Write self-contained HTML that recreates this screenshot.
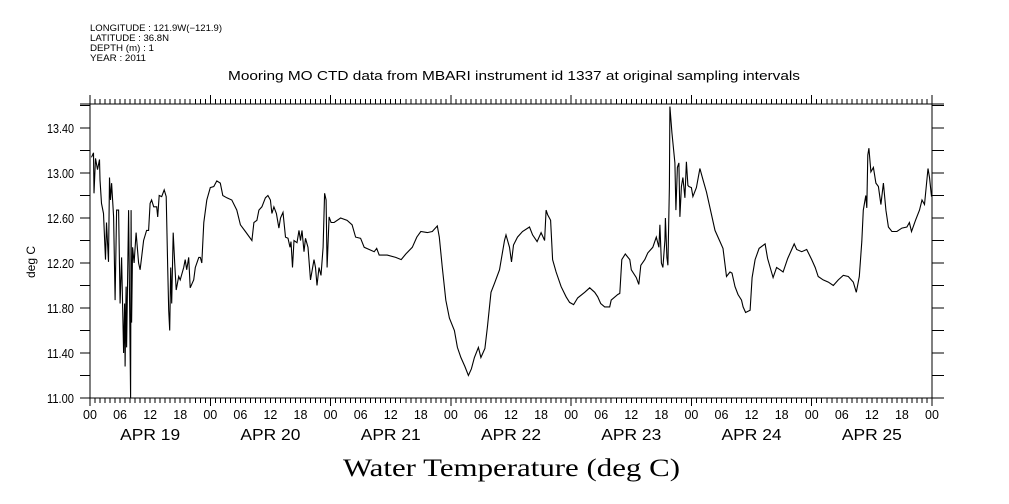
<!DOCTYPE html>
<html><head><meta charset="utf-8"><style>
html,body{margin:0;padding:0;background:#fff;}
svg{display:block;font-family:"Liberation Sans",sans-serif;}
</style></head><body>
<svg id="chart" width="1009" height="504" viewBox="0 0 1009 504">
<g font-size="9" fill="#000">
<text x="90" y="31" textLength="132" lengthAdjust="spacingAndGlyphs">LONGITUDE : 121.9W(−121.9)</text>
<text x="90" y="41" textLength="79" lengthAdjust="spacingAndGlyphs">LATITUDE : 36.8N</text>
<text x="90" y="51" textLength="64" lengthAdjust="spacingAndGlyphs">DEPTH (m) : 1</text>
<text x="90" y="61" textLength="56" lengthAdjust="spacingAndGlyphs">YEAR : 2011</text>
</g>
<text x="228" y="80" textLength="572" lengthAdjust="spacingAndGlyphs" font-size="13">Mooring MO CTD data from MBARI instrument id 1337 at original sampling intervals</text>
<text transform="translate(35,262) rotate(-90)" text-anchor="middle" font-size="12">deg C</text>
<text x="343" y="476" textLength="337" lengthAdjust="spacingAndGlyphs" font-size="25" font-family="Liberation Serif, serif">Water Temperature (deg C)</text>
<g id="axes"></g>
<g id="series"></g>
</svg>
<script>
const hours = [0.3,0.7,0.8,1.1,1.5,1.9,2.0,2.3,2.7,2.9,3.1,3.3,3.7,3.9,4.1,4.3,4.7,5.0,5.3,5.7,6.0,6.3,6.7,6.9,7.0,7.2,7.3,7.7,7.9,8.1,8.2,8.3,8.5,8.8,9.2,9.7,10.0,10.3,10.7,11.3,11.7,12.0,12.3,12.7,13.3,13.5,13.8,14.3,14.8,15.2,15.5,15.7,15.9,16.1,16.3,16.6,16.9,17.2,17.7,18.0,18.7,19.0,19.3,19.7,20.0,20.7,21.0,21.7,22.0,22.3,
22.7,23.3,24,24.7,25.3,26,26.5,27.3,28.3,29.3,30,31,32.3,32.7,33.3,33.7,34.3,35,35.5,36,36.3,36.7,37.2,37.7,38,38.5,39,39.5,39.9,40.1,40.4,40.7,41.3,41.7,42,42.3,42.7,43,43.5,44,44.7,45,45.3,45.7,46.1,46.5,46.8,47.1,47.3,47.7,48.1,48.7,50,51.3,52.3,53,54,54.7,55.7,56.7,57.2,57.7,59.3,61,62.1,63,64.3,65.2,66,67.3,68.3,69.3,69.7,70.3,
71,71.7,72.7,73.3,74,74.8,75.5,76.1,76.7,77.5,78,78.8,79.3,80,80.7,81.7,82.7,83,83.7,84.1,84.5,85.3,86.3,87.7,88.3,89.2,90,90.7,91,91.3,91.9,92.3,93,94,95,95.7,96.5,97.3,98.7,99.7,100.7,101.3,101.9,102.7,103.7,104,105.3,105.7,106.1,106.8,107.7,108,109,109.5,109.9,110.7,111.3,112.3,113,113.5,113.7,114,114.3,114.7,114.8,115.1,115.3,115.6,115.7,116.1,116.7,116.9,117.2,117.5,117.7,118,
118.3,118.7,119,119.3,119.5,120,120.3,121,121.7,122.3,123,123.7,124.7,125.7,126.3,127,127.7,128.1,128.7,129.3,130,130.3,130.8,131.7,132.1,132.7,133.5,134.7,135.2,136.3,137,137.7,138.3,139.2,140,140.5,141,142,143,144,144.7,145.3,146.3,147.3,148.3,149.3,150.3,151.3,152.3,152.9,153.5,154,154.3,154.8,155,155.2,155.4,155.8,156.3,156.8,157.3,157.8,158.3,158.8,159.3,160,161,162,163,163.5,163.9,164.7,165.5,166,166.5,167.2,167.5,167.9];
const temps = [13.14,13.18,12.82,13.13,13.03,13.12,12.94,12.73,12.64,12.43,12.23,12.56,12.21,12.96,12.76,12.91,12.61,11.87,12.67,12.67,11.84,12.25,11.40,11.84,11.28,11.99,11.45,12.67,11.84,11.00,12.67,11.67,12.34,12.20,12.47,12.20,12.14,12.25,12.40,12.49,12.49,12.73,12.76,12.70,12.70,12.61,12.80,12.79,12.85,12.79,12.16,11.78,11.60,12.16,11.84,12.47,12.20,11.96,12.08,12.05,12.16,12.23,12.14,12.25,11.98,12.05,12.16,12.25,12.25,12.20,
12.56,12.76,12.87,12.88,12.93,12.91,12.80,12.78,12.76,12.67,12.54,12.48,12.40,12.56,12.58,12.67,12.70,12.78,12.80,12.76,12.64,12.70,12.64,12.51,12.60,12.65,12.43,12.42,12.34,12.39,12.16,12.40,12.38,12.49,12.40,12.49,12.30,12.42,12.34,12.05,12.23,12.16,12.00,12.16,12.09,12.34,12.82,12.76,12.16,12.61,12.56,12.56,12.60,12.58,12.54,12.43,12.42,12.34,12.32,12.30,12.33,12.27,12.27,12.25,12.23,12.28,12.34,12.43,12.48,12.47,12.48,12.53,12.43,12.16,
11.87,11.71,11.60,11.45,11.36,11.28,11.20,11.26,11.36,11.45,11.36,11.44,11.63,11.94,12.02,12.14,12.40,12.45,12.34,12.21,12.36,12.43,12.48,12.52,12.45,12.39,12.47,12.40,12.67,12.63,12.58,12.23,12.12,11.99,11.90,11.85,11.83,11.89,11.94,11.98,11.94,11.90,11.84,11.81,11.81,11.87,11.92,11.93,12.23,12.28,12.23,12.14,12.07,12.01,12.18,12.23,12.29,12.34,12.43,12.34,12.54,12.20,12.16,12.40,12.60,12.25,12.18,12.88,13.59,13.36,13.09,12.67,13.05,13.09,12.61,12.88,
12.96,12.78,13.10,12.89,12.88,12.87,12.79,12.87,13.04,12.94,12.83,12.69,12.49,12.39,12.33,12.08,12.12,12.11,11.99,11.92,11.87,11.81,11.76,11.78,12.07,12.23,12.33,12.37,12.24,12.07,12.16,12.14,12.12,12.24,12.32,12.37,12.32,12.30,12.32,12.23,12.16,12.08,12.05,12.03,12.00,12.05,12.09,12.08,12.03,11.94,12.08,12.39,12.67,12.80,12.69,13.16,13.22,13.01,13.05,12.91,12.88,12.72,12.91,12.67,12.52,12.48,12.48,12.51,12.52,12.56,12.48,12.58,12.67,12.76,12.72,13.04,12.96,12.79];
const yTicks = [11.00,11.40,11.80,12.20,12.60,13.00,13.40];
const hourLabels = ["00","06","12","18"];
const dayLabels = ["APR 19","APR 20","APR 21","APR 22","APR 23","APR 24","APR 25"];

const X0=90, X1=932, YTOP=104, YBOT=398;
const xs = h => X0 + (h/168)*(X1-X0);
const ys = v => YBOT - (v-11.0)/(13.40-11.0)*(YBOT-128);
const NS="http://www.w3.org/2000/svg";
const axes=document.getElementById('axes');
function mk(tag,attrs,parent){const e=document.createElementNS(NS,tag);for(const k in attrs)e.setAttribute(k,attrs[k]);parent.appendChild(e);return e;}
let d=`M${X0},${YBOT}H${X1}M${X0},${YTOP}H${X1}M${X0},${YTOP}V${YBOT}M${X1},${YTOP}V${YBOT}`;
d+=`M80,${YTOP}H${X0}M${X1},${YTOP}H944`;
for(let h=0;h<=168;h++){
  const x=xs(h).toFixed(1);
  const big = h%24===0;
  d+=`M${x},${YBOT}V${YBOT+(big?8:5)}M${x},${YTOP}V${YTOP-(big?9:5)}`;
}
for(let v=11.0;v<=13.61;v+=0.2){
  const y=ys(v).toFixed(1);
  d+=`M80,${y}H${X0}M${X1},${y}H944`;
}
const frame=mk('path',{d:d,stroke:'#000','stroke-width':1,fill:'none','shape-rendering':'crispEdges'},axes);


yTicks.forEach(v=>{
  const t=mk('text',{x:74,y:ys(v)+5,'text-anchor':'end','font-size':12.5,textLength:27,lengthAdjust:'spacingAndGlyphs'},axes);
  t.textContent=v.toFixed(2);
  
  
});
for(let h=0;h<=168;h+=6){
  const t=mk('text',{x:xs(h),y:419,'text-anchor':'middle','font-size':12.5},axes);
  t.textContent=hourLabels[(h/6)%4];
  
  
}
dayLabels.forEach((lab,i)=>{
  const t=mk('text',{x:xs(i*24+12)-30,y:440,'font-size':15.5,textLength:60,lengthAdjust:'spacingAndGlyphs'},axes);
  t.textContent=lab;
  
  
});
const pts=hours.map((h,i)=>`${xs(h).toFixed(1)},${ys(temps[i]).toFixed(1)}`).join(' ');
const line=mk('polyline',{points:pts,fill:'none',stroke:'#000','stroke-width':1.1},document.getElementById('series'));


</script>
</body></html>
